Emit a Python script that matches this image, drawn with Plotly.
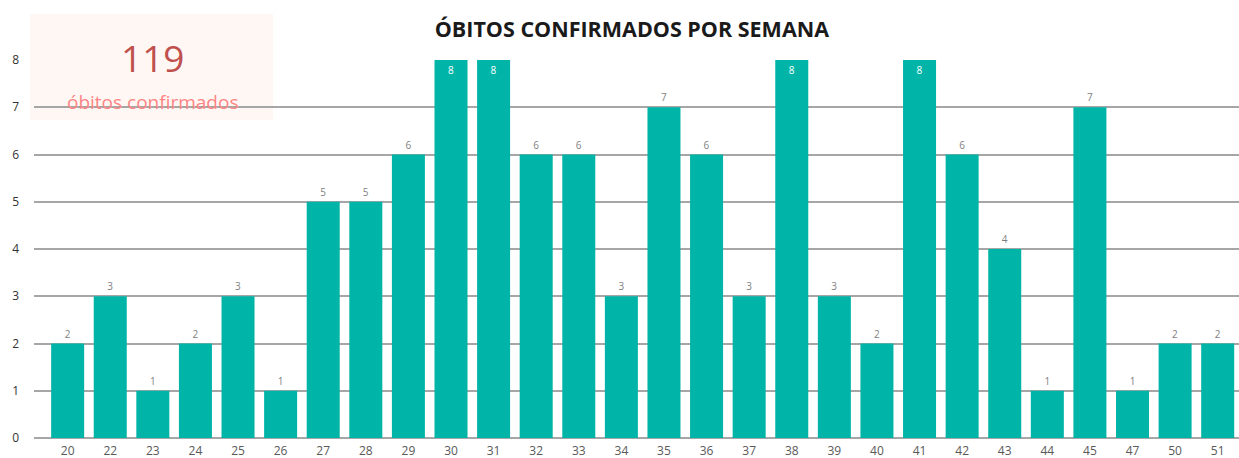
import plotly.graph_objects as go

weeks = ["20","22","23","24","25","26","27","28","29","30","31","32","33","34",
         "35","36","37","38","39","40","41","42","43","44","45","47","50","51"]
deaths = [2,3,1,2,3,1,5,5,6,8,8,6,6,3,7,6,3,8,3,2,8,6,4,1,7,1,2,2]
total_label = "119"
total_sub = "óbitos confirmados"
title = "ÓBITOS CONFIRMADOS POR SEMANA"

ymax = 8
positions = ["inside" if v >= ymax else "outside" for v in deaths]
tcolors = ["white" if v >= ymax else "#7f7f7f" for v in deaths]

fig = go.Figure()
fig.add_trace(go.Bar(
    x=list(range(len(weeks))), y=deaths,
    marker=dict(color="#00b5a8", line=dict(width=0)),
    text=[str(v) for v in deaths],
    textposition=positions,
    insidetextanchor="end",
    textfont=dict(size=10, color=tcolors, family="Open Sans"),
    cliponaxis=False,
    hoverinfo="x+y",
))

W, H = 1239, 458
ml, mr, mt, mb = 34, 0, 60, 20
pw, ph = W - ml - mr, H - mt - mb

def px_x(p):
    return (p - ml) / pw

def px_y(p):
    return (H - mb - p) / ph

fig.add_shape(type="rect", xref="paper", yref="paper",
              x0=px_x(30), x1=px_x(273), y0=px_y(120), y1=px_y(14),
              fillcolor="#fff7f4", line=dict(width=0), layer="below")
fig.add_annotation(xref="paper", yref="paper", x=px_x(152), y=px_y(58),
                   text=total_label, showarrow=False,
                   font=dict(size=37, color="#c0504d", family="Open Sans"),
                   xanchor="center", yanchor="middle")
fig.add_annotation(xref="paper", yref="paper", x=px_x(152), y=px_y(102),
                   text=total_sub, showarrow=False,
                   font=dict(size=19, color="#ff8585", family="Open Sans"),
                   xanchor="center", yanchor="middle")

fig.update_layout(
    width=W, height=H,
    margin=dict(l=ml, r=mr, t=mt, b=mb),
    paper_bgcolor="white", plot_bgcolor="white",
    bargap=0.225,
    showlegend=False,
    title=dict(text="<b>" + title + "</b>", x=0.51, xref="container", xanchor="center",
               y=1 - 29 / H, yref="container", yanchor="middle",
               font=dict(size=21.5, color="#1a1a1a", family="Open Sans")),
    font=dict(family="Open Sans"),
)
fig.update_xaxes(
    tickmode="array", tickvals=list(range(len(weeks))), ticktext=weeks,
    range=[-0.79, len(weeks) - 0.5],
    showgrid=False, zeroline=False, showline=False, ticks="",
    tickfont=dict(size=12, color="#595959"),
    ticklabelstandoff=4,
)
fig.update_yaxes(
    range=[0, ymax], dtick=1,
    showgrid=True, gridcolor="#a6a6a6", gridwidth=2,
    zeroline=True, zerolinecolor="#a6a6a6", zerolinewidth=2,
    showline=False, ticks="",
    tickfont=dict(size=12, color="#333333"),
    ticklabelstandoff=14,
)

fig.write_html("out.html", config={"displayModeBar": False},
               post_script="document.body.style.margin='0';document.body.style.overflow='hidden';")
